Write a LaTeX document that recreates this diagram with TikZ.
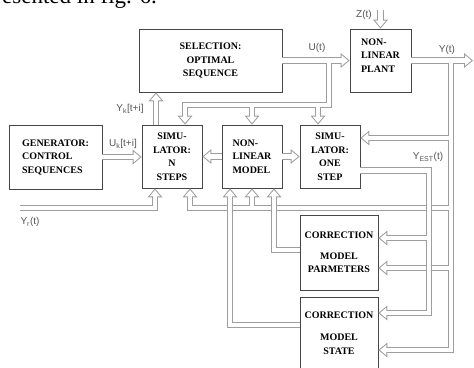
\documentclass[tikz,border=0pt]{standalone}
\usepackage{fontspec}
\setmainfont{Liberation Serif}
\newfontfamily\labfont{Liberation Sans}
\usetikzlibrary{arrows.meta}
\definecolor{wirecol}{RGB}{158,158,158}
\definecolor{boxcol}{RGB}{70,70,70}
\definecolor{labcol}{RGB}{85,85,85}

\tikzset{
  blk/.style={draw=boxcol, line width=0.8pt, fill=white, inner sep=0pt, align=center,
    font=\fontsize{10}{13.5}\selectfont\bfseries},
  lab/.style={text=labcol, inner sep=0pt, font=\labfont\fontsize{10}{12}\selectfont},
  wire out/.style={draw=wirecol, line width=6.5pt,
    >={Triangle[width=15pt,length=9pt,line width=0pt]}},
  wire in/.style={draw=white, line width=4.5pt, shorten >=1.6pt,
    >={Triangle[width=10.7pt,length=6.4pt,line width=0pt]}},
}
% a hollow connector: grey body first, white core after
\newcommand\hollow[1]{%
  \tikzset{aw/.style={wire out,->}}#1%
  \tikzset{aw/.style={wire in,->}}#1}

\begin{document}
\begin{tikzpicture}[x=1pt,y=-1pt]
		\useasboundingbox (0,0) rectangle (474,367);
		\clip (0,0) rectangle (474,367);
		
		\node[anchor=base east, inner sep=0pt, font=\fontsize{23}{26}\selectfont] (cap) at (157,3.5) {presented in fig. 6.};
		
		%%%%% BLOCKS %%%%%
		\node[blk, minimum width=143pt, minimum height=63pt] (sel) at (210.5,60.5) {SELECTION:\\OPTIMAL\\SEQUENCE};
		\node[blk, minimum width=61pt, minimum height=63pt, align=left] (plant) at (380.5,60.5) {NON-\\LINEAR\\PLANT\\[-3pt]};
		\node[blk, minimum width=93pt, minimum height=64pt, align=left] (gen) at (55.5,157) {GENERATOR:\\CONTROL\\SEQUENCES};
		\node[blk, minimum width=60pt, minimum height=63pt] (simn) at (172,156.5) {SIMU-\\LATOR:\\N\\STEPS};
		\node[blk, minimum width=60pt, minimum height=63pt, align=left] (nlm) at (252,156.5) {NON-\\LINEAR\\MODEL};
		\node[blk, minimum width=60pt, minimum height=63pt] (sim1) at (330,156.5) {SIMU-\\LATOR:\\ONE\\STEP};
		\node[blk, minimum width=78pt, minimum height=75pt] (cp) at (339,252.5) {CORRECTION\\[7pt]MODEL\\PARMETERS};
		\node[blk, minimum width=78pt, minimum height=72pt] (cs) at (339,333) {CORRECTION\\[9pt]MODEL\\STATE};
		
		%%%%% JUNCTIONS %%%%%
		\coordinate (u1) at (329,60.5);
		\coordinate (u2) at (329,105);
		\coordinate (u3) at (185,105);
		\coordinate (u4) at (318,105);
		\coordinate (yout) at (473,60.5);
		\coordinate (y1) at (451,60.5);
		\coordinate (y2) at (451,350);
		\coordinate (y3) at (451,138);
		\coordinate (y4) at (451,208);
		\coordinate (y5) at (190,208);
		\coordinate (y6) at (451,268);
		\coordinate (e1) at (429,170.5);
		\coordinate (e2) at (429,313);
		\coordinate (e3) at (429,238);
		\coordinate (p1) at (274,250);
		\coordinate (s1) at (230,325);
		\coordinate (r0) at (20,208);
		\coordinate (r1) at (155,208);
		\coordinate (z0) at (380.5,10);
		\coordinate (k0) at (156,125);
		
		%%%%% CONNECTORS %%%%%
		% plant output and its feedback
		\hollow{%
			\draw[aw] (plant.east) -- (yout);
			\draw[aw] (y1) -- (y2) -- (cs.east |- y2);
			\draw[aw] (y3) -- (sim1.east |- y3);
			\draw[aw] (y6) -- (cp.east |- y6);
			\draw[aw] (y4) -- (y5) -- (y5 |- simn.south);
			\draw[aw] (nlm.south |- y4) -- (nlm.south);}
		% estimated output
		\hollow{%
			\draw[aw] (e1 -| sim1.east) -- (e1) -- (e2) -- (cs.east |- e2);
			\draw[aw] (e3) -- (cp.east |- e3);}
		\hollow{\draw[aw] (cp.west |- p1) -- (p1) -- (p1 |- nlm.south);}
		\hollow{\draw[aw] (cs.west |- s1) -- (s1) -- (s1 |- nlm.south);}
		\hollow{\draw[aw] (r0) -- (r1) -- (r1 |- simn.south);}
		\hollow{\draw[aw] (gen.east) -- (gen.east -| simn.west);}
		\hollow{%
			\draw[aw] (nlm.west) -- (simn.east);
			\draw[aw] (nlm.east) -- (sim1.west);}
		\hollow{\draw[aw] (k0) -- (k0 |- sel.south);}
		\hollow{\draw[aw] (z0) -- (plant.north);}
		% control signal
		\hollow{%
			\draw[aw] (sel.east) -- (plant.west);
			\draw[aw] (u1) -- (u2) -- (u3) -- (u3 |- simn.north);
			\draw[aw] (nlm.north |- u2) -- (nlm.north);
			\draw[aw] (u4) -- (u4 |- sim1.north);}
		
		%%%%% LABELS %%%%%
		\node[lab] (lu) at (317,48) {U(t)};
		\node[lab] (ly) at (447,50) {Y(t)};
		\node[lab] (lz) at (364,15) {Z(t)};
		\node[lab] (lyk) at (130,109) {Y\textsubscript{k}[t+i]};
		\node[lab] (luk) at (123,144) {U\textsubscript{k}[t+i]};
		\node[lab] (lyr) at (30,222) {Y\textsubscript{r}(t)};
		\node[lab] (lyest) at (428,157) {Y\textsubscript{EST}(t)};
		
\end{tikzpicture}
\end{document}
